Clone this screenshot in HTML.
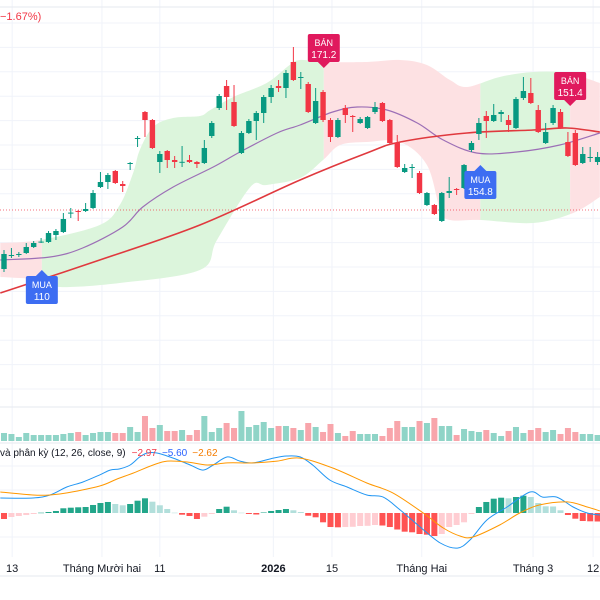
<!DOCTYPE html>
<html><head><meta charset="utf-8"><style>
html,body{margin:0;padding:0;background:#fff;}
svg{display:block;font-family:"Liberation Sans","Noto Sans CJK SC",sans-serif;}
</style></head><body>
<svg id="chart" width="600" height="600" viewBox="0 0 600 600" xmlns="http://www.w3.org/2000/svg">
<g id="grid"></g>
<g id="bands"></g>
<g id="lines"></g>
<line x1="0" y1="210" x2="600" y2="210" stroke="#f23645" stroke-width="1" stroke-dasharray="1,2" opacity="0.7"/>
<g id="candles"></g>
<g id="signals"></g>
<g id="volume"></g>
<g id="macd"></g>
<text x="0" y="20" font-size="11" fill="#f23645">−1.67%)</text>
<text id="mt" x="0" y="456" font-size="10" fill="#131722">và phân kỳ (12, 26, close, 9)</text>
<text id="mv1" x="104" y="456" font-size="10" fill="#f23645">−2.97</text>
<text id="mv2" x="129" y="456" font-size="10" fill="#2962ff">−5.60</text>
<text id="mv3" x="154" y="456" font-size="10" fill="#f57c00">−2.62</text>
<g id="xaxis"></g>
</svg>
<script>
const opens=[65.5,72,72.75,73.5,76.5,79,79,82.5,84,93.5,94.5,94.5,96,106.5,109,114.5,108,118.4,130.5,144,140,119,124.5,120,119,120,119,118.5,132,146,157,149,123.5,133.5,139.5,143.5,151.5,157,156,169,161.4,158,138.5,154,140,131.5,146,142,138.5,136,144,148.5,140,128.5,114,116.4,113.5,97.5,97.5,89.5,103.5,105.5,106,125,133,142,139.5,143,140,136,151,153.5,145,128.5,138.5,144,129,133.5,118.5,121.4,119];
const highs=[75,76,74,78.5,79.5,81,84.5,85.5,93.5,96,95,98.5,105,114,113.5,115,109.5,119,132,144.5,140.5,124.5,125,122,127,122.5,119.5,130,139.5,153,160,157.5,134.5,140.5,144.5,152.5,157.5,160,165,176.5,164,159,156,155,141,141,147.5,142.5,141.5,142,149,149,140.5,132.5,118,118,114.5,104,98,104,111.5,106,118,129.5,141,144.5,148,145,142.5,151.5,161.5,161,147.5,138.5,147.5,145.5,134,135,126.5,126.5,124];
const lows=[64,71,71.5,73,76,78.5,78.5,80,83.5,91,89.5,94,95.5,106,105.5,108,104,115,126.5,131.5,125.5,113.5,116,116,116.5,118.5,116,118,131,145,145,136.5,123,133,130,138.5,148.5,154,151,159.5,155.5,143.5,138,139,129,131,138.5,134,138,135.5,143,139,128,116,113.5,111,103,97,92.5,89,101,102.5,105.5,124,130,131,139,139,134,135.5,150,148,133.5,128,137.5,135.5,121.5,117,118,119,117.5];
const closes=[73,72.5,73,76.5,78.5,79.2,83.5,84.5,90.5,93.7,94,95.5,103.5,109,112.5,108.5,107,118.5,131,140,126,123,120,119,119.1,119,118,126,138.5,152,151.5,137,133.5,139.5,143.5,151.5,156,156,163.5,160,161.5,144,149.5,140,131.5,140,142.5,141.5,140.5,141.5,146.5,139.5,128.5,116.5,116,116.5,103.5,103.5,93,103.5,104.5,105,117.5,128.5,138.5,139.5,142.5,144,137.5,150.5,154.5,148.5,134,134,146,136,122,117.5,123,121.5,121.5];
const volumes=[800,700,400,800,600,600,600,600,700,800,900,600,800,900,900,800,800,1400,900,2500,1300,1600,1000,1000,1100,600,1100,2500,900,1300,1800,1300,3000,1400,1600,1900,1300,1500,1500,1300,1100,1800,1400,900,1700,800,500,1000,700,700,700,500,1300,2000,1400,1400,2000,1800,2300,1500,1500,600,1200,1000,900,1100,800,500,1000,1400,800,1100,1300,900,1100,700,1300,900,700,700,600];
const macdHist=[-2,-1.33,-1,-0.67,-0.33,0.1,0.33,0.67,1.57,1.77,1.9,2,2.67,3.33,3.67,3,2.57,3,4.1,4.9,3.77,2.57,1.33,0.1,-0.57,-1,-2,-1.23,-0.33,1.33,2.1,0.9,0.1,-0.33,-0.5,0.17,0.67,1,1.33,0.9,0.33,-0.9,-1.43,-3.1,-4.67,-4.77,-4.67,-4.6,-4.33,-4.27,-4,-4.17,-4.67,-5.5,-6.23,-6.43,-7,-7.23,-7.67,-7,-4.67,-4,-3.1,-0.33,2,3.67,4.77,5.1,4.9,5.33,5.77,5.33,3.33,2.23,2.17,0.9,-0.67,-1.9,-2.67,-2.77,-2.83];
const macdPos=[-0.5,3.9,6.2,8.5,10.6,12.9,14.3,15.6,17,18.3,19.3,20.6,22.8,25.1,26.8,28.2,30.1,31.8,33.6,36.3,38.1,39.9,41.6,43.9,46.2,48.9,51.1,53.4,56.1,58.8,61.1,62.8,65.1,67.8,70.9,72.6,74.5,76.7,78.6,80.3];
const macdLine=[5,5,6,8.7,10.3,12.7,14.3,14.7,16,18.7,20,20,18.3,16,14.3,16,18.7,17.3,16.7,18.3,19,18.7,16,11,8.7,6,5.3,1,-4.7,-10,-11.7,-9,-2.3,2,7,5.3,5.3,2,0,-0.7];
const signalPos=[-0.5,3.9,6.2,8.5,12.9,15.2,17.4,20.1,22,24.7,27.4,30.1,33.6,36.8,39.9,44.3,48.9,52.4,56.5,59.2,61.5,63.2,66.8,69.5,72.2,75.9,78.6,80.3];
const signalLine=[7,6,6,6.7,9,11.3,13.3,16,17.3,17,16,16.7,16.7,17.3,18.3,15,10,6.7,0,-5,-7.7,-8,-4,0,2.7,3.7,2,0.7];
const midPos=[-0.5,6.2,10.6,16,18.7,22.8,28.2,31.8,36.8,39.9,44.3,47.6,51.6,55.7,59.2,63.7,69.1,74.9,80.3];
const midBand=[70,71.5,76,86.5,96.5,106.5,116.5,124,133.5,137.5,144,146.5,145,138.5,130,123.5,124,127.5,133.5];
const upperPos=[-0.5,4.9,12.9,15.6,17.4,18.3,20.1,22.8,26.4,27.8,30.9,35.4,38.5,39.9,43,48.9,53.4,57,60.1,62.4,66.8,71.3,75.9,80.3];
const upperBand=[78.5,80,87.5,97.5,113.5,125,136.5,141,142,145,151.5,158.5,167.5,170,169,169,170,167.5,160,156.5,161.5,164,163.5,158.5];
const lowerPos=[-0.5,5.3,7.5,15.6,26.4,28.7,33.2,35.4,39.9,43,45.3,48.9,53.4,57,58.8,60.1,64.2,71.3,76.7,80.3];
const lowerBand=[61.5,60,56.5,58.5,65,80,106.5,107.5,111,120,127.5,129,129,117.5,95,90,90,88.5,93.5,101.5];
const maPos=[-0.5,12.9,26.4,39.9,48.9,53.4,62.4,71.3,75.9,80.3];
const maLong=[53.5,70,87.5,110,123.5,129,133.5,135,136,134];
const signalIdx=[5.1,43.1,64.2,76.3];
const signalType=["MUA","BÁN","MUA","BÁN"];
const signalPrice=["110","171.2","154.8","151.4"];
const xTickPos=[1.1,13.2,21,36.3,44.2,56.3,71.3,79.4];
const xTickLabels=["13","Tháng Mười hai","11","2026","15","Tháng Hai","Tháng 3","12"];

const NS="http://www.w3.org/2000/svg";
const X=c=>4+7.42*c;
const Y=p=>400-2*p;
const VY=v=>441-v*0.01;
const MY=v=>513-v*3;
const boxTops=[276,34,171,72];
function mk(tag,attrs,parent){const e=document.createElementNS(NS,tag);for(const k in attrs)e.setAttribute(k,attrs[k]);parent.appendChild(e);return e;}
function smooth(pts){let d="M"+pts[0][0]+","+pts[0][1];for(let i=0;i<pts.length-1;i++){const p0=pts[i-1]||pts[i],p1=pts[i],p2=pts[i+1],p3=pts[i+2]||p2;const c1x=p1[0]+(p2[0]-p0[0])/6,c1y=p1[1]+(p2[1]-p0[1])/6,c2x=p2[0]-(p3[0]-p1[0])/6,c2y=p2[1]-(p3[1]-p1[1])/6;d+=" C"+c1x+","+c1y+" "+c2x+","+c2y+" "+p2[0]+","+p2[1];}return d;}
function pts(pos,vals,fy){return pos.map((c,i)=>[X(c),fy(vals[i])]);}

(function(){
  const t=document.getElementById('mt');let x=t.getComputedTextLength()+6;
  ['mv1','mv2','mv3'].forEach(id=>{const e=document.getElementById(id);e.setAttribute('x',x);x+=e.getComputedTextLength()+5;});
})();

const grid=document.getElementById('grid');
for(let y=23;y<400;y+=24.4){const l=mk('line',{x1:0,x2:600,y1:y,y2:y,stroke:'#f0f3fa','stroke-width':1},grid);}
[466,490,537].forEach(y=>{const l=mk('line',{x1:0,x2:600,y1:y,y2:y,stroke:'#f0f3fa','stroke-width':1},grid);});
xTickPos.forEach(c=>{const l=mk('line',{x1:X(c),x2:X(c),y1:0,y2:557,stroke:'#f0f3fa','stroke-width':1},grid);});
[7,407,443,576].forEach(y=>{const l=mk('line',{x1:0,x2:600,y1:y,y2:y,stroke:'#e6e9ef','stroke-width':1},grid);});

const bands=document.getElementById('bands');
const up=pts(upperPos,upperBand,Y), lo=pts(lowerPos,lowerBand,Y);
const fillD=smooth(up)+smooth(lo.slice().reverse()).replace(/^M/,' L')+" Z";
const defs=mk('defs',{},bands);
const segs=[-1,signalIdx[0],signalIdx[1],signalIdx[2],signalIdx[3],82];
for(let i=0;i<segs.length-1;i++){
  const cp=mk('clipPath',{id:'seg'+i},defs);
  mk('rect',{x:X(segs[i]),y:0,width:X(segs[i+1])-X(segs[i]),height:400},cp);
  const p=mk('path',{d:fillD,fill:(i%2===1)?'#dcf5dc':'#fde1e3','clip-path':'url(#seg'+i+')'},bands);
  
  
}
const lines=document.getElementById('lines');
const mid=mk('path',{d:smooth(pts(midPos,midBand,Y)),fill:'none',stroke:'#9c6fb6','stroke-width':1.2},lines);


const ma=mk('path',{d:smooth(pts(maPos,maLong,Y)),fill:'none',stroke:'#e0393e','stroke-width':1.6},lines);



const cg=document.getElementById('candles');
opens.forEach((o,i)=>{
  const c=closes[i],up=c>=o,col=up?'#089981':'#f23645',x=X(i);
  const g=mk('g',{},cg);
  
  
  mk('line',{x1:x,x2:x,y1:Y(highs[i]),y2:Y(lows[i]),stroke:col,'stroke-width':1},g);
  const top=Y(Math.max(o,c)),h=Math.max(1,Math.abs(Y(o)-Y(c)));
  mk('rect',{x:x-2.7,y:top,width:5.4,height:h,fill:col},g);
});

const sg=document.getElementById('signals');
signalIdx.forEach((c,i)=>{
  const buy=signalType[i]==="MUA",x=X(c),col=buy?'#3d6df2':'#e0195d';
  const g=mk('g',{},sg);
  
  
  const ry=boxTops[i];
  if(buy) mk('path',{d:`M${x-6},${ry} L${x},${ry-6} L${x+6},${ry} Z`,fill:col},g);
  else mk('path',{d:`M${x-6},${ry+28} L${x},${ry+34} L${x+6},${ry+28} Z`,fill:col},g);
  mk('rect',{x:x-16,y:ry,width:32,height:28,rx:2,fill:col},g);
  const t1=mk('text',{x:x,y:ry+12,'text-anchor':'middle','font-size':9,fill:'#fff'},g);t1.textContent=signalType[i];
  const t2=mk('text',{x:x,y:ry+24,'text-anchor':'middle','font-size':10,fill:'#fff'},g);t2.textContent=signalPrice[i];
});

const vg=document.getElementById('volume');
volumes.forEach((v,i)=>{
  const up=closes[i]>=opens[i];
  const r=mk('rect',{x:X(i)-3,y:VY(v),width:6,height:441-VY(v),fill:up?'#8fd4c7':'#f8a5ab'},vg);
  
  
});

const mg=document.getElementById('macd');
macdHist.forEach((h,i)=>{
  const prev=i>0?macdHist[i-1]:h;
  let col;
  if(h>=0)col=h>=prev?'#22a68a':'#b2dfdb';else col=h<=prev?'#ff5252':'#ffcdd2';
  const y0=MY(0),y1=MY(h);
  const r=mk('rect',{x:X(i)-3,y:Math.min(y0,y1),width:6,height:Math.max(0.5,Math.abs(y1-y0)),fill:col},mg);
  
  
});
const ml=mk('path',{d:smooth(pts(macdPos,macdLine,MY)),fill:'none',stroke:'#2196f3','stroke-width':1},mg);


const sl=mk('path',{d:smooth(pts(signalPos,signalLine,MY)),fill:'none',stroke:'#ff9800','stroke-width':1},mg);



const xg=document.getElementById('xaxis');
xTickLabels.forEach((t,i)=>{
  const tx=mk('text',{x:X(xTickPos[i]),y:572,'text-anchor':'middle','font-size':11,fill:'#131722','font-weight':t==="2026"?'bold':'normal'},xg);
  tx.textContent=t;
  
  
});
</script>
</body></html>
